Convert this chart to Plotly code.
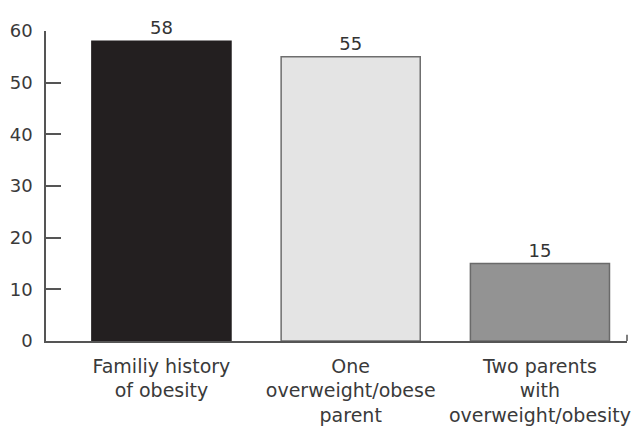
import plotly.graph_objects as go

categories = ["Familiy history<br>of obesity", "One<br>overweight/obese<br>parent", "Two parents<br>with<br>overweight/obesity"]
values = [58, 55, 15]
fill_colors = ["#231f20", "#e4e4e4", "#939393"]
edge_colors = ["#231f20", "#6e6e6e", "#6a6a6a"]
y_ticks = [0, 10, 20, 30, 40, 50, 60]

fig = go.Figure(
    go.Bar(
        x=categories,
        y=values,
        marker=dict(color=fill_colors, line=dict(color=edge_colors, width=1.5)),
        text=[str(v) for v in values],
        textposition="outside",
        textfont=dict(family="DejaVu Sans", size=18, color="#333333"),
        cliponaxis=False,
    )
)

fig.update_layout(
    width=640,
    height=428,
    margin=dict(l=46, r=13, t=31, b=87, autoexpand=False),
    paper_bgcolor="white",
    plot_bgcolor="white",
    showlegend=False,
    bargap=0.265,
    font=dict(family="DejaVu Sans", color="#444444"),
)

fig.update_xaxes(
    range=[-0.61, 2.46],
    automargin=False,
    showline=True,
    linecolor="#555555",
    linewidth=1.5,
    showgrid=False,
    ticks="",
    tickfont=dict(size=19, color="#3a3a3a"),
    ticklabelstandoff=7,
)

fig.update_yaxes(
    range=[0, 60],
    automargin=False,
    tickvals=y_ticks,
    showline=True,
    linecolor="#555555",
    linewidth=1.5,
    showgrid=False,
    zeroline=False,
    ticks="inside",
    ticklen=15,
    tickwidth=1.5,
    tickcolor="#555555",
    tickfont=dict(size=18, color="#3a3a3a"),
    ticklabelstandoff=8,
)

# small closing tick at the right end of the baseline
fig.add_shape(type="line", xref="paper", yref="paper", x0=1, x1=1, y0=0, y1=0.02,
              line=dict(color="#555555", width=1.5))

fig.write_html("out.html")
